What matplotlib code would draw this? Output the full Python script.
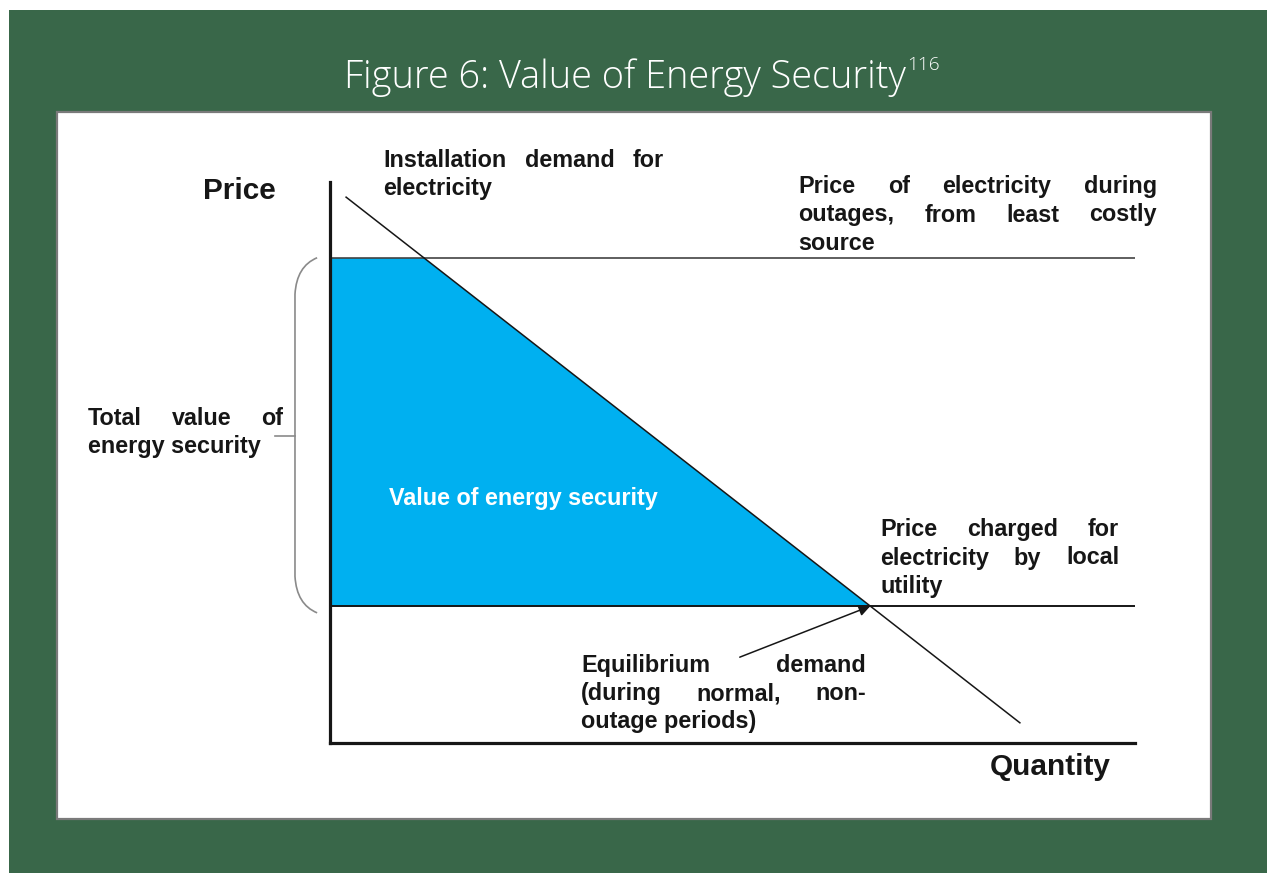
import matplotlib.pyplot as plt
import matplotlib.transforms as mtransforms
from matplotlib.patches import Rectangle, PathPatch
from matplotlib.path import Path
import numpy as np

#%% Data (diagram units, both axes 0-100)
outage_price = 86.5      # price during outages, least costly source
utility_price = 24.4     # price charged by local utility
demand_q = [2.0, 85.7]   # installation demand line, quantity ends
demand_p = [97.3, 3.6]   # installation demand line, price ends
arrow_tail = (50.9, 15.3)

title = 'Figure 6: Value of Energy Security'
title_note = '116'

W, H = 1267, 873
GREEN = '#396749'
BLUE = '#00B0F0'
INK = '#161616'
BODY = dict(family=['Liberation Sans', 'DejaVu Sans'], weight='bold', fontsize=16.8)

#%% Figure and frame
fig = plt.figure(figsize=(W / 100, H / 100), dpi=100, facecolor='white')
rend = fig.canvas.get_renderer()
pix = mtransforms.Affine2D().scale(1, -1).translate(0, H)   # image pixels, origin top-left

fig.add_artist(Rectangle((9, 10), W - 9, H - 10, transform=pix, facecolor=GREEN, edgecolor='none', zorder=-2))
fig.add_artist(Rectangle((57, 112), 1154, 707, transform=pix, facecolor='white',
                         edgecolor='#7a7a7a', lw=1.6, zorder=-1))

#%% Title
t = fig.text(344, 88, title, transform=pix, color='white', family=['Open Sans', 'DejaVu Sans'],
             weight='light', fontsize=30, ha='left', va='baseline')
w = t.get_window_extent(rend).width
t.set_fontsize(30 * 561 / w)
bb = t.get_window_extent(rend)
fig.text(bb.x1 + 1, 70, title_note, transform=pix, color='white', family=['Open Sans', 'DejaVu Sans'],
         weight='light', fontsize=t.get_fontsize() * 0.5, ha='left', va='baseline')

#%% Diagram axes
ax = fig.add_axes([330 / W, 1 - 743 / H, 805 / W, 561 / H])
ax.set_zorder(2)
ax.set_xlim(0, 100)
ax.set_ylim(0, 100)
ax.set_facecolor('none')
for s in ['top', 'right']:
    ax.spines[s].set_visible(False)
for s in ['left', 'bottom']:
    ax.spines[s].set_linewidth(2.3)
    ax.spines[s].set_color(INK)
ax.set_xticks([])
ax.set_yticks([])

# demand line and where it crosses the two price levels
qd = np.array(demand_q)
pd_ = np.array(demand_p)
q_top = np.interp(outage_price, pd_[::-1], qd[::-1])
q_eq = np.interp(utility_price, pd_[::-1], qd[::-1])

ax.fill_between([0, q_top, q_eq], [utility_price] * 3,
                [outage_price, outage_price, utility_price], color=BLUE, lw=0, zorder=1)
ax.hlines(outage_price, 0, 100, color='#333333', lw=1.1, zorder=2)
ax.hlines(utility_price, 0, 100, color=INK, lw=1.4, zorder=2)
ax.plot(qd, pd_, color=INK, lw=1.1, zorder=3)

ax.annotate('', xy=(q_eq, utility_price), xytext=arrow_tail,
            arrowprops=dict(arrowstyle='-|>', color=INK, lw=1.1, mutation_scale=17,
                            shrinkA=0, shrinkB=0))

# curly bracket for total value
top, bot = outage_price, utility_price - 1.2
mid = (outage_price + utility_price) / 2 - 0.8
xe, xv, xt = -1.6, -4.35, -6.8
verts = [(xe, top), (xv + 0.2, top - 1.5), (xv, top - 6.5),
         (xv, bot + 6.5), (xv + 0.2, bot + 1.5), (xe, bot)]
codes = [Path.MOVETO, Path.CURVE3, Path.CURVE3, Path.LINETO, Path.CURVE3, Path.CURVE3]
ax.add_patch(PathPatch(Path(verts, codes), facecolor='none', edgecolor='#8a8a8a', lw=1.2, clip_on=False))
ax.plot([xt, xv], [mid, mid], color='#8a8a8a', lw=1.2, clip_on=False)


#%% Text
def para(lines, x0, x1, y0, dy, color=INK):
    for i, line in enumerate(lines):
        y = y0 + i * dy
        words = line.split()
        if i == len(lines) - 1 or len(words) == 1:
            fig.text(x0, y, line, transform=pix, color=color, ha='left', va='baseline', **BODY)
            continue
        ts = [fig.text(0, y, wd, transform=pix, color=color, ha='left', va='baseline', **BODY)
              for wd in words]
        ws = [tt.get_window_extent(rend).width for tt in ts]
        gap = (x1 - x0 - sum(ws)) / (len(words) - 1)
        x = x0
        for tt, wd in zip(ts, ws):
            tt.set_x(x)
            x += wd + gap


para(['Installation demand for', 'electricity'], 383, 664, 167, 28)
para(['Price of electricity during', 'outages, from least costly', 'source'], 798, 1157, 193, 28.5)
para(['Total value of', 'energy security'], 88, 283, 425, 28)
para(['Price charged for', 'electricity by local', 'utility'], 880, 1119, 536, 28.5)
para(['Equilibrium demand', '(during normal, non-', 'outage periods)'], 581, 866, 672, 28)
para(['Value of energy security'], 389, 660, 505, 28, color='white')

big = dict(BODY, fontsize=21.4)
fig.text(203, 199, 'Price', transform=pix, color=INK, ha='left', va='baseline', **big)
fig.text(990, 775, 'Quantity', transform=pix, color=INK, ha='left', va='baseline', **big)

fig.savefig('out.png', dpi=100, facecolor=fig.get_facecolor())
